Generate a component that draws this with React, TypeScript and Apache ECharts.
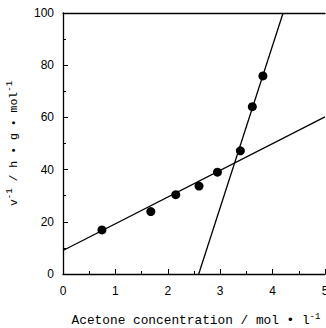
import React, { useEffect, useRef } from "react";
import * as echarts from "echarts";

const pointsX = [0.743, 1.676, 2.152, 2.596, 2.947, 3.385, 3.613, 3.815];
const pointsY = [16.9, 23.9, 30.4, 33.7, 39.0, 47.2, 64.1, 75.9];
const fitLowX = [0, 5];
const fitLowY = [9, 60.2];
const fitHighX = [2.59, 4.2];
const fitHighY = [0, 100];
const xTicks = [0, 1, 2, 3, 4, 5];
const yTicks = [0, 20, 40, 60, 80, 100];

export default function App() {
  const ref = useRef<HTMLDivElement>(null);
  useEffect(() => {
    const chart = echarts.init(ref.current!, null, { renderer: "svg" });
    const axisLine = { show: true, lineStyle: { color: "#000", width: 1.3 } };
    const sup = { fontFamily: "Liberation Mono", fontSize: 9, verticalAlign: "top", padding: [0, 0, 8, 0], color: "#000" };
    chart.setOption({
      animation: false,
      backgroundColor: "#fff",
      grid: { left: 63, right: 1, top: 13, bottom: 54, outerBoundsMode: "none", containLabel: false },
      xAxis: [
        {
          type: "value",
          min: xTicks[0],
          max: xTicks[xTicks.length - 1],
          interval: 1,
          axisLine,
          axisTick: { show: true, inside: true, length: 5, lineStyle: { color: "#000" } },
          minorTick: { show: true, splitNumber: 2, length: 3, lineStyle: { color: "#000" } },
          splitLine: { show: false },
          axisLabel: { margin: 11, color: "#000", fontFamily: "Liberation Sans", fontSize: 12, showMaxLabel: true },
          name: "Acetone concentration / mol • l{s|-1}",
          nameLocation: "middle",
          nameGap: 38,
          nameTextStyle: {
            color: "#000",
            fontFamily: "Liberation Mono",
            fontSize: 12.8,
            padding: [0, 0, 0, 4],
            rich: { s: sup },
          },
        },
        {
          type: "value",
          position: "top",
          min: 0,
          max: 5,
          axisLine,
          axisTick: { show: false },
          axisLabel: { show: false },
          splitLine: { show: false },
        },
      ],
      yAxis: {
        type: "value",
        min: yTicks[0],
        max: yTicks[yTicks.length - 1],
        interval: 20,
        axisLine,
        axisTick: { show: true, inside: true, length: 5, lineStyle: { color: "#000" } },
        minorTick: { show: true, splitNumber: 2, length: 3, lineStyle: { color: "#000" } },
        splitLine: { show: false },
        axisLabel: { margin: 9, color: "#000", fontFamily: "Liberation Sans", fontSize: 12 },
        name: "v{s|-1} / h • g • mol{s|-1}",
        nameLocation: "middle",
        nameGap: 41,
        nameTextStyle: {
          color: "#000",
          fontFamily: "Liberation Mono",
          fontSize: 11.5,
          rich: { s: sup },
        },
      },
      series: [
        {
          type: "line",
          data: fitLowX.map((x, i) => [x, fitLowY[i]]),
          symbol: "none",
          lineStyle: { color: "#000", width: 1.3 },
          silent: true,
        },
        {
          type: "line",
          data: fitHighX.map((x, i) => [x, fitHighY[i]]),
          symbol: "none",
          lineStyle: { color: "#000", width: 1.3 },
          silent: true,
        },
        {
          type: "scatter",
          data: pointsX.map((x, i) => [x, pointsY[i]]),
          symbolSize: 9,
          itemStyle: { color: "#000", opacity: 1 },
          z: 5,
        },
      ],
    });
    return () => chart.dispose();
  }, []);
  return <div ref={ref} style={{ width: 326, height: 328, position: "absolute", left: 0, top: 0 }} />;
}
